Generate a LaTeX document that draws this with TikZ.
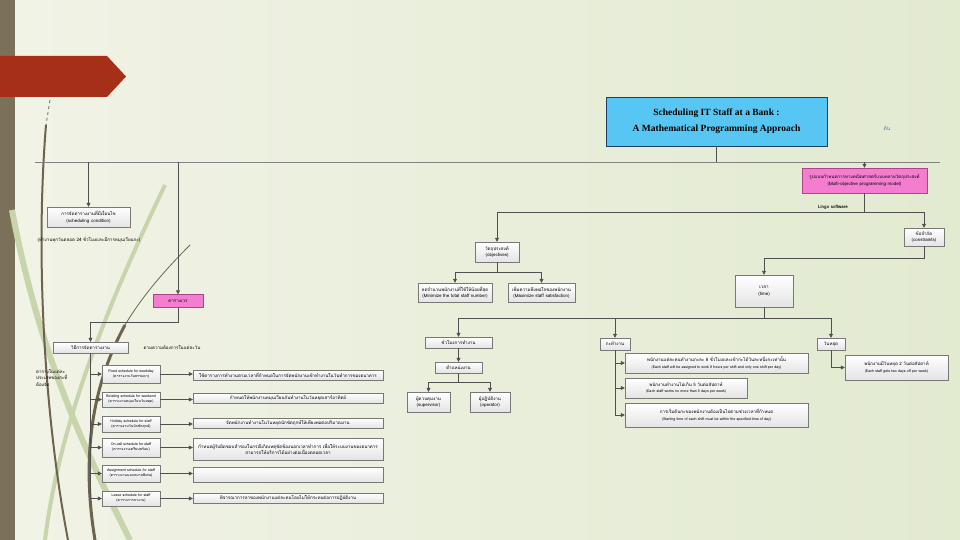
\documentclass[tikz,border=0pt]{standalone}
\usepackage{fontspec}
\setmainfont{Liberation Serif}
\newfontfamily\thaifont[Script=Thai]{Loma}
\usetikzlibrary{arrows.meta,positioning,calc,shadows}
\definecolor{bgL}{RGB}{241,243,230}
\definecolor{bgR}{RGB}{226,234,208}
\definecolor{stripcol}{RGB}{122,113,88}
\definecolor{bannercol}{RGB}{165,47,23}
\definecolor{decorB}{RGB}{110,100,78}
\definecolor{decorG}{RGB}{200,212,172}
\definecolor{wiregray}{RGB}{80,80,80}
\definecolor{busgray}{RGB}{130,130,130}
\definecolor{boxline}{RGB}{120,120,120}
\definecolor{boxshade}{RGB}{228,228,228}
\definecolor{pinkfill}{RGB}{244,125,208}
\definecolor{pinkline}{RGB}{170,70,135}
\definecolor{titlefill}{RGB}{88,198,243}
\definecolor{titleline}{RGB}{35,60,100}
\definecolor{notecol}{RGB}{70,120,175}
\newcommand{\thaitext}{\thaifont\fontsize{4.5}{6.5}\selectfont}
\newcommand{\thaitiny}{\thaifont\fontsize{3.6}{5}\selectfont}

\begin{document}
\begin{tikzpicture}[x=1pt,y=-1pt,
    box/.style={draw=boxline, top color=white, bottom color=boxshade, inner sep=1pt, align=center,
      font=\thaitext, drop shadow={opacity=0.2, shadow xshift=0.8pt, shadow yshift=-0.8pt}},
    pinkbox/.style={draw=pinkline, fill=pinkfill, inner sep=1pt, align=center, font=\thaitext},
    wire/.style={draw=wiregray, line width=0.7pt},
    arr/.style={-{Triangle[width=4pt,length=4pt]}},
    label/.style={font=\thaitext, inner sep=0pt}]
  \useasboundingbox (0,0) rectangle (960,540);
  % background
  \shade[left color=bgL, right color=bgR] (0,0) rectangle (960,540);
  \fill[stripcol] (0,0) rectangle (15,540);
  \fill[bannercol] (0,56) -- (107,56) -- (126,76.5) -- (107,97) -- (0,97) -- cycle;
  % decorative curves
  \draw[decorG, line width=6pt] (12,210) .. controls (40,360) and (90,460) .. (130,540);
  \draw[decorG, line width=4pt] (165,185) .. controls (110,300) and (60,420) .. (45,540);
  \draw[decorB, line width=0.8pt, dashed] (50,100) -- (46,125);
  \draw[decorB, line width=2pt] (46,125) .. controls (35,260) and (45,420) .. (68,540);
  \draw[decorB, line width=0.8pt] (190,245) .. controls (160,275) and (140,300) .. (125,325);
  \draw[decorB, line width=3pt] (125,325) .. controls (95,380) and (80,450) .. (95,540);

  % title
  \node[draw=titleline, fill=titlefill, line width=0.8pt, minimum width=221pt, minimum height=49pt,
    align=center, font=\bfseries\fontsize{9.5}{11}\selectfont,
    drop shadow={opacity=0.3, shadow xshift=1pt, shadow yshift=-1pt}] (title) at (716.5,121.5)
    {Scheduling IT Staff at a Bank :\\[5pt]A Mathematical Programming Approach};
  \node[font=\thaifont\fontsize{5}{6}\selectfont, text=notecol] (note) at (887,128) {ต้น};

  % upper branch
  \node[pinkbox, minimum width=125pt, minimum height=25pt] (model) at (864.5,180.5)
    {รูปแบบกำหนดการทางคณิตศาสตร์แบบหลายวัตถุประสงค์\\(Multi-objective programming model)};
  \node[label, font=\thaifont\bfseries\fontsize{4.5}{6}\selectfont] (lingo) at (833,207) {Lingo software};
  \node[box, minimum width=40pt, minimum height=18pt] (cons) at (924,237) {ข้อจำกัด\\(constraints)};
  \node[box, minimum width=58pt, minimum height=32pt] (time) at (764,291) {เวลา\\(time)};
  \node[box, minimum width=44pt, minimum height=20pt] (obj) at (497,252) {วัตถุประสงค์\\(objectives)};
  \node[box, minimum width=74pt, minimum height=19pt] (obj1) at (455,292.5)
    {ลดจำนวนพนักงานที่ใช้ให้น้อยที่สุด\\(Minimize the total staff number)};
  \node[box, minimum width=67pt, minimum height=19pt] (obj2) at (541.5,292.5)
    {เพิ่มความพึงพอใจของพนักงาน\\(Maximize staff satisfaction)};

  % left branch
  \node[box, minimum width=83pt, minimum height=20pt] (sched) at (88.5,217)
    {การจัดตารางงานที่มีเงื่อนไข\\(scheduling condition)};
  \node[label] (schednote) at (89,240) {(ทำงานทุกวันตลอด 24 ชั่วโมงและมีการหมุนเวียนกะ)};
  \node[pinkbox, minimum width=50pt, minimum height=13pt] (table) at (178,301) {ตารางเวร};
  \node[box, minimum width=75pt, minimum height=11pt] (method) at (90.5,347.5) {วิธีการจัดตารางงาน};
  \node[label] (methodnote) at (172,347) {ตามความต้องการในแต่ละวัน};
  \node[label, anchor=north west, align=left] (leftnote) at (36,369)
    {ตารางในแต่ละ\\ประเภทของกะที่\\ต้องจัด};

  % schedule types
  \node[box, font=\thaitiny, minimum width=58pt, minimum height=18pt] (lb1) at (131,374)
    {Fixed schedule for weekday\\(ตารางงานวันธรรมดา)};
  \node[box, font=\thaitiny, minimum width=58pt, minimum height=15pt] (lb2) at (131,399.5)
    {Rotating schedule for weekend\\(ตารางงานหมุนเวียนวันหยุด)};
  \node[box, font=\thaitiny, minimum width=58pt, minimum height=16pt] (lb3) at (131,424)
    {Holiday schedule for staff\\(ตารางงานวันนักขัตฤกษ์)};
  \node[box, font=\thaitiny, minimum width=58pt, minimum height=19pt] (lb4) at (131,447.5)
    {On-call schedule for staff\\(ตารางงานเตรียมพร้อม)};
  \node[box, font=\thaitiny, minimum width=58pt, minimum height=17pt] (lb5) at (131,473.5)
    {Assignment schedule for staff\\(ตารางงานมอบหมายพิเศษ)};
  \node[box, font=\thaitiny, minimum width=58pt, minimum height=15pt] (lb6) at (131,498.5)
    {Leave schedule for staff\\(ตารางการลางาน)};

  \node[box, minimum width=190pt, minimum height=10pt] (rb1) at (288,375)
    {ใช้ตารางการทำงานตามเวลาที่กำหนดในการจัดพนักงานเข้าทำงานในวันทำการของธนาคาร};
  \node[box, minimum width=190pt, minimum height=10pt] (rb2) at (288,398)
    {กำหนดให้พนักงานหมุนเวียนกันทำงานในวันหยุดเสาร์อาทิตย์};
  \node[box, minimum width=190pt, minimum height=10pt] (rb3) at (288,423)
    {จัดพนักงานทำงานในวันหยุดนักขัตฤกษ์ให้เพียงพอต่อปริมาณงาน};
  \node[box, minimum width=190pt, minimum height=22pt] (rb4) at (288,449)
    {กำหนดผู้รับผิดชอบสำรองในกรณีเกิดเหตุขัดข้องนอกเวลาทำการ เพื่อให้ระบบงานของธนาคาร\\สามารถให้บริการได้อย่างต่อเนื่องตลอดเวลา};
  \node[box, minimum width=190pt, minimum height=15pt] (rb5) at (288,474.5) {};
  \node[box, minimum width=190pt, minimum height=10pt] (rb6) at (288,498)
    {พิจารณาการลาของพนักงานแต่ละคนโดยไม่ให้กระทบต่อการปฏิบัติงาน};

  % working hours
  \node[box, minimum width=67pt, minimum height=11pt] (hours) at (458.5,342.5) {ชั่วโมงการทำงาน};
  \node[box, minimum width=47pt, minimum height=11pt] (post) at (458.5,367.5) {ตำแหน่งงาน};
  \node[box, minimum width=43pt, minimum height=20pt] (sup) at (428.5,402) {ผู้ควบคุมงาน\\(supervisor)};
  \node[box, minimum width=40pt, minimum height=20pt] (opr) at (490,402) {ผู้ปฏิบัติงาน\\(operator)};

  % shifts and days off
  \node[box, minimum width=30pt, minimum height=12pt] (shift) at (615,344) {กะทำงาน};
  \node[box, minimum width=183pt, minimum height=20pt] (sh1) at (716.5,363)
    {พนักงานแต่ละคนทำงานกะละ 8 ชั่วโมงและเข้ากะได้วันละหนึ่งกะเท่านั้น\\{\thaitiny(Each staff will be assigned to work 8 hours per shift and only one shift per day)}};
  \node[box, minimum width=122pt, minimum height=20pt] (sh2) at (686,388)
    {พนักงานทำงานไม่เกิน 5 วันต่อสัปดาห์\\{\thaitiny(Each staff works no more than 5 days per week)}};
  \node[box, minimum width=183pt, minimum height=24pt] (sh3) at (716.5,415)
    {การเริ่มต้นกะของพนักงานต้องเป็นไปตามช่วงเวลาที่กำหนด\\{\thaitiny(Starting time of each shift must be within the specified time of day)}};
  \node[box, minimum width=28pt, minimum height=12pt] (off) at (831,344) {วันหยุด};
  \node[box, minimum width=103pt, minimum height=25pt] (off1) at (896.5,367.5)
    {พนักงานมีวันหยุด 2 วันต่อสัปดาห์\\{\thaitiny(Each staff gets two days off per week)}};

  % connectors
  \coordinate (busL) at (35,162);
  \coordinate (busR) at (940,162);
  \coordinate (lvlA) at (0,212);
  \coordinate (lvlB) at (0,258);
  \coordinate (lvlC) at (0,318);
  \coordinate (lvlD) at (0,272);
  \coordinate (lvlE) at (0,322);
  \coordinate (lvlF) at (0,382);
  \draw[wire, draw=busgray] (busL) -- (busR);
  \draw[wire] (title.south) -- (title.south |- busL);
  \draw[wire,arr] (sched.north |- busL) -- (sched.north);
  \draw[wire,arr] (table.north |- busL) -- (table.north);
  \draw[wire,arr] (model.north |- busL) -- (model.north);
  \draw[wire] (model.south) -- (model.south |- lvlA);
  \draw[wire] (obj.north |- lvlA) -- (cons.north |- lvlA);
  \draw[wire,arr] (obj.north |- lvlA) -- (obj.north);
  \draw[wire,arr] (cons.north |- lvlA) -- (cons.north);
  \draw[wire] (obj.south) -- (obj.south |- lvlD);
  \draw[wire] (obj1.north |- lvlD) -- (obj2.north |- lvlD);
  \draw[wire,arr] (obj1.north |- lvlD) -- (obj1.north);
  \draw[wire,arr] (obj2.north |- lvlD) -- (obj2.north);
  \draw[wire] (cons.south) -- (cons.south |- lvlB) -- (time.north |- lvlB);
  \draw[wire,arr] (time.north |- lvlB) -- (time.north);
  \draw[wire] (time.south) -- (time.south |- lvlC);
  \draw[wire] (hours.north |- lvlC) -- (off.north |- lvlC);
  \draw[wire,arr] (hours.north |- lvlC) -- (hours.north);
  \draw[wire,arr] (shift.north |- lvlC) -- (shift.north);
  \draw[wire,arr] (off.north |- lvlC) -- (off.north);
  \draw[wire,arr] (hours.south) -- (post.north);
  \draw[wire] (post.south) -- (post.south |- lvlF);
  \draw[wire] (sup.north |- lvlF) -- (opr.north |- lvlF);
  \draw[wire,arr] (sup.north |- lvlF) -- (sup.north);
  \draw[wire,arr] (opr.north |- lvlF) -- (opr.north);
  \draw[wire] (shift.south) -- (shift.south |- sh3.west);
  \foreach \k in {1,2,3}
    \draw[wire,arr] (shift.south |- sh\k.west) -- (sh\k.west);
  \draw[wire,arr] (off.south) |- (off1.west);
  \draw[wire,arr] (table.south) -- (table.south |- lvlE) -| (method.north);
  \draw[wire] (method.south) -- (method.south |- lb6.west);
  \foreach \k in {1,...,6} {
    \draw[wire,arr] (method.south |- lb\k.west) -- (lb\k.west);
    \draw[wire,arr] (lb\k.east) -- (lb\k.east -| rb\k.west);
  }
\end{tikzpicture}
\end{document}
